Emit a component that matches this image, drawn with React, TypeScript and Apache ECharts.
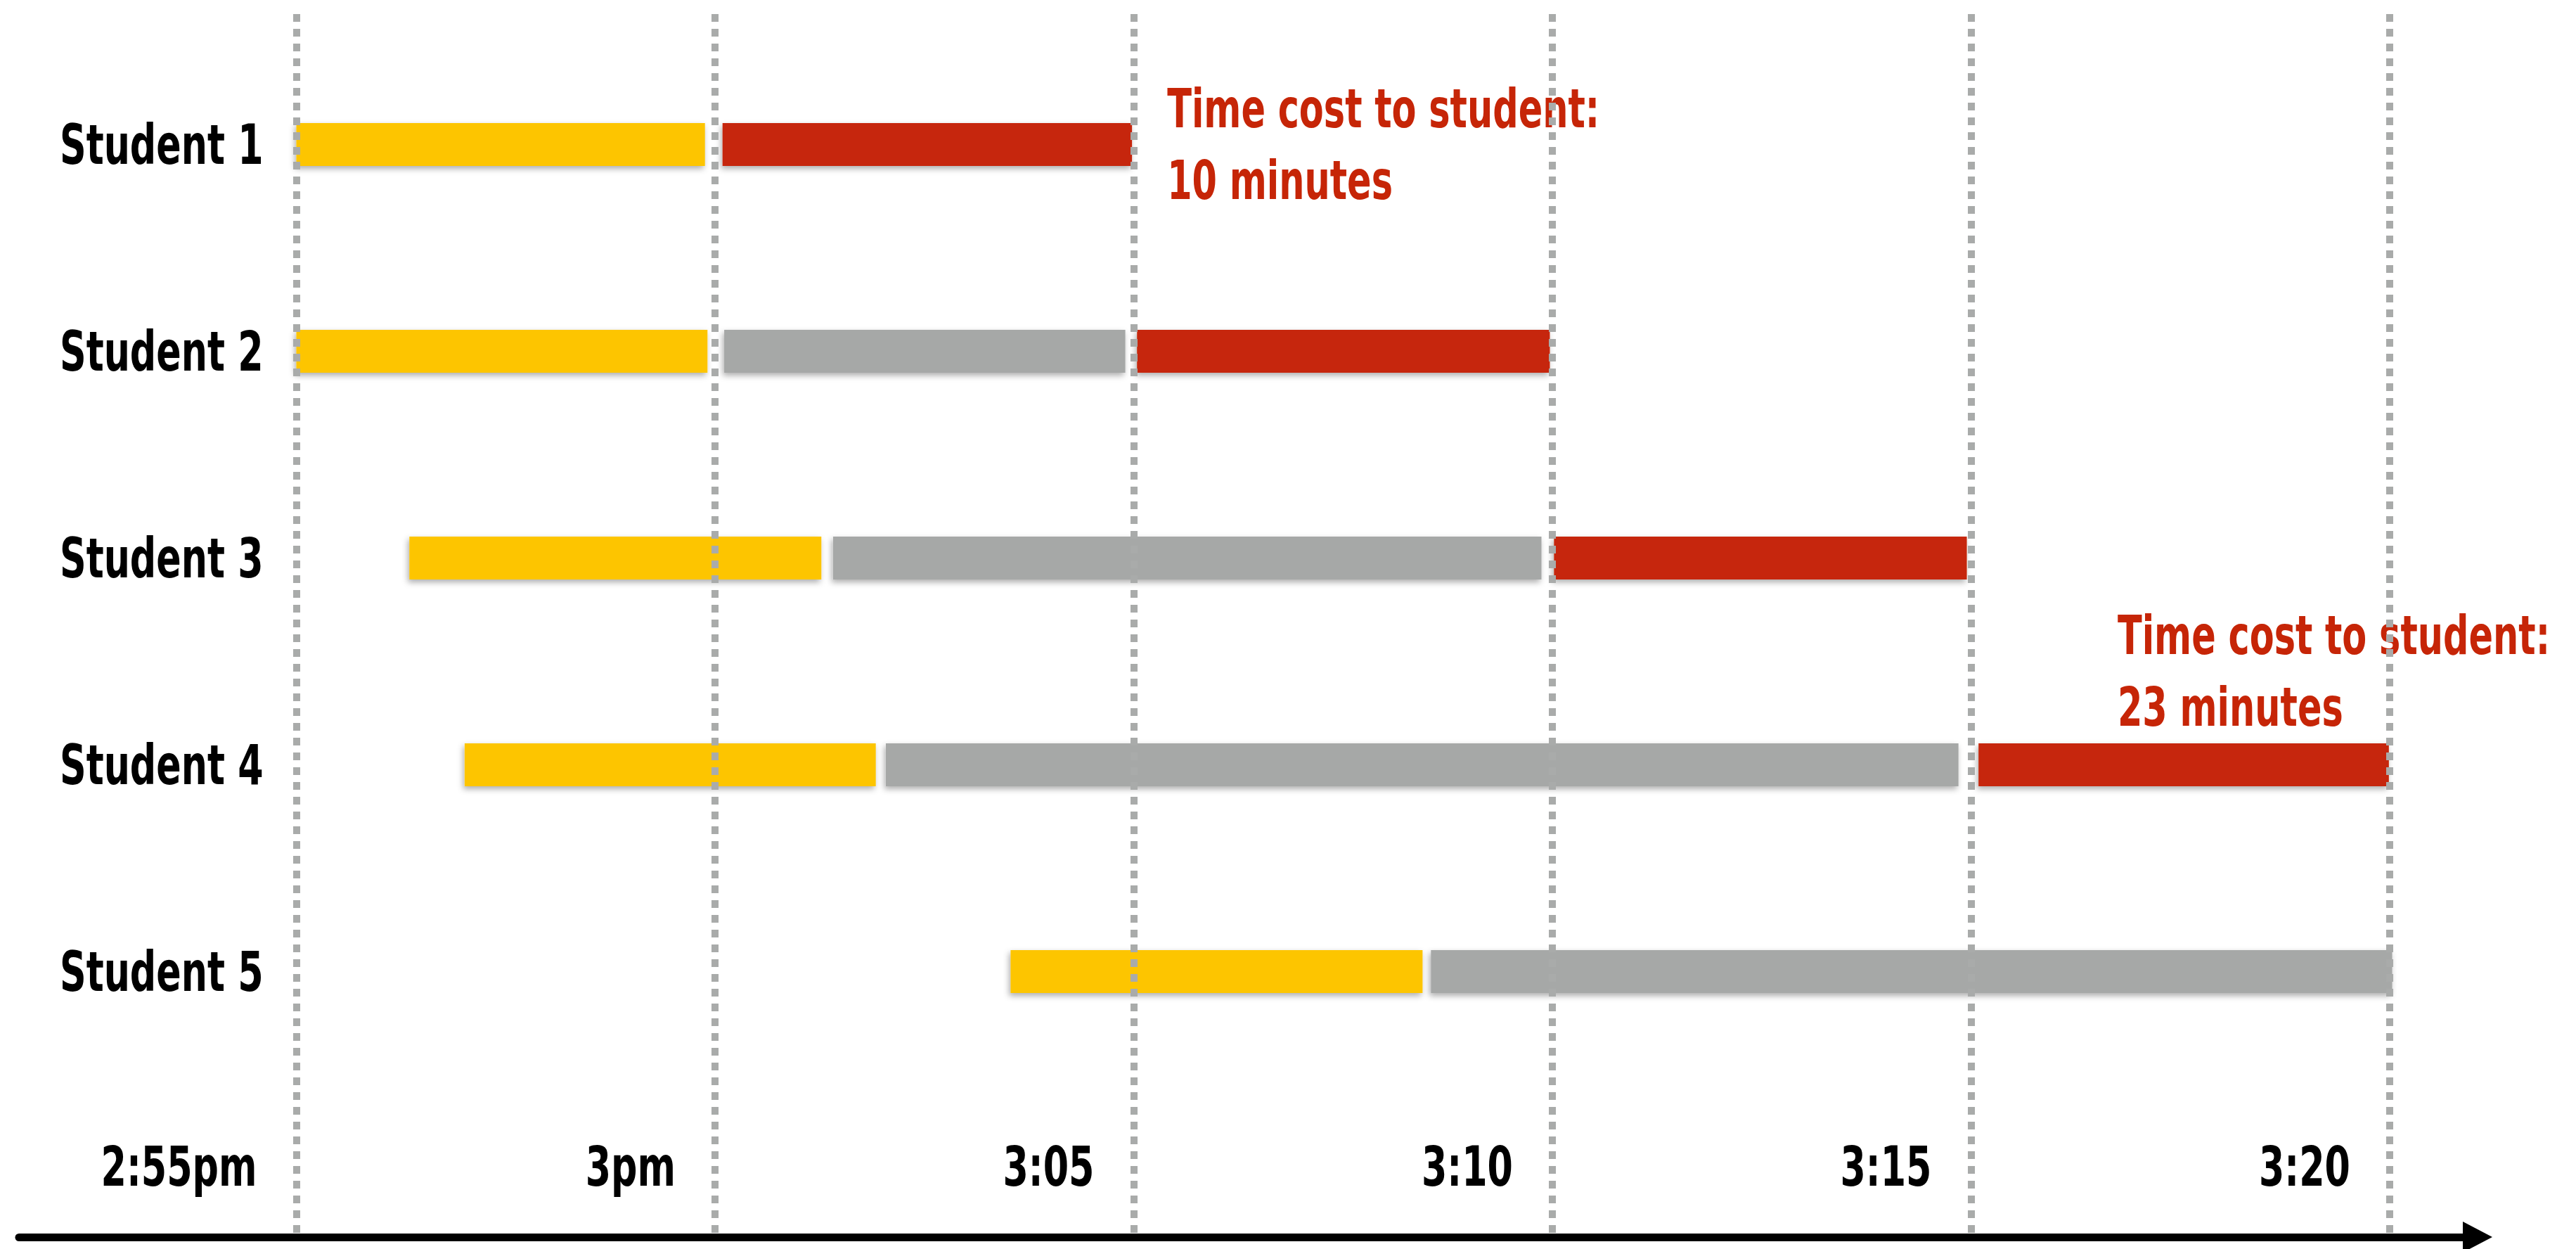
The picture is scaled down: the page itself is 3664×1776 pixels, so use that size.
import React, { useEffect, useRef } from "react";
import * as echarts from "echarts";

// ---- data (minutes after 2:55pm) ----
const students = ["Student 1", "Student 2", "Student 3", "Student 4", "Student 5"];
const tickValues = [0, 5, 10, 15, 20, 25];
const tickLabels = ["2:55pm", "3pm", "3:05", "3:10", "3:15", "3:20"];

// [start, end] per student, null when absent
const yellowSegments: (number[] | null)[] = [
  [0, 4.88],
  [0, 4.91],
  [1.35, 6.27],
  [2.01, 6.92],
  [8.53, 13.45],
];
const graySegments: (number[] | null)[] = [
  null,
  [5.11, 9.9],
  [6.41, 14.87],
  [7.04, 19.85],
  [13.55, 25.03],
];
const redSegments: (number[] | null)[] = [
  [5.09, 9.98],
  [10.04, 14.97],
  [15.02, 19.95],
  [20.09, 24.99],
  null,
];

const annotationX = [10.4, 21.75];
const annotationRow = [0, 3];
const annotationRowShift = [0, -0.45];
const annotationText = [
  "Time cost to student:\n10 minutes",
  "Time cost to student:\n23 minutes",
];

const FONT = "'Liberation Sans Narrow', 'DejaVu Sans Condensed', 'DejaVu Sans', sans-serif";
const NARROW = 0.745; // horizontal squeeze to mimic a condensed bold face
const YELLOW = "#fdc500";
const GRAY = "#a6a8a7";
const RED = "#c62507";

function toData(segs: (number[] | null)[]) {
  const out: number[][] = [];
  segs.forEach((s, i) => {
    if (s) out.push([s[0], s[1], i]);
  });
  return out;
}

function barSeries(name: string, segs: (number[] | null)[], color: string) {
  return {
    type: "custom",
    name,
    xAxisIndex: 0,
    yAxisIndex: 0,
    clip: false,
    z: 2,
    data: toData(segs),
    encode: { x: [0, 1], y: 2 },
    renderItem: (params: any, api: any) => {
      const s = api.value(0);
      const e = api.value(1);
      const row = api.value(2);
      const p0 = api.coord([s, row]);
      const p1 = api.coord([e, row]);
      const h = 61;
      return {
        type: "rect",
        shape: { x: p0[0], y: p0[1] - h / 2, width: p1[0] - p0[0], height: h },
        style: {
          fill: color,
          shadowBlur: 8,
          shadowOffsetX: -2,
          shadowOffsetY: 4,
          shadowColor: "rgba(0,0,0,0.32)",
        },
      };
    },
  };
}

export default function App() {
  const ref = useRef<HTMLDivElement>(null);

  useEffect(() => {
    if (!ref.current) return;
    const chart = echarts.init(ref.current, null, { renderer: "svg" });

    const textStyle = (text: string, fill: string, size: number, align: string) => ({
      text,
      fill,
      fontFamily: FONT,
      fontWeight: "bold",
      fontSize: size,
      align,
      verticalAlign: "middle",
    });

    const option: any = {
      animation: false,
      backgroundColor: "#ffffff",
      grid: [
        { left: 421.5, right: 265, top: 58.5, height: 1470 },
        { left: 421.5, right: 265, top: 20, bottom: 22 },
        { left: 27, right: 140, top: 1700, bottom: 17 },
      ],
      xAxis: [
        { gridIndex: 0, type: "value", min: 0, max: 25, show: false },
        {
          gridIndex: 1,
          type: "value",
          min: 0,
          max: 25,
          interval: 5,
          z: 10,
          axisLine: { show: false },
          axisTick: { show: false },
          axisLabel: { show: false },
          splitLine: {
            show: true,
            lineStyle: { color: "#a9abaa", width: 10, type: [11, 10] },
          },
        },
        {
          gridIndex: 2,
          type: "value",
          min: 0,
          max: 1,
          axisLine: {
            show: true,
            symbol: ["none", "triangle"],
            symbolSize: [44, 42],
            lineStyle: { color: "#000", width: 11 },
          },
          axisTick: { show: false },
          axisLabel: { show: false },
          splitLine: { show: false },
        },
      ],
      yAxis: [
        {
          gridIndex: 0,
          type: "category",
          data: students,
          inverse: true,
          axisLine: { show: false },
          axisTick: { show: false },
          splitLine: { show: false },
          axisLabel: { show: false },
        },
        { gridIndex: 1, type: "value", min: 0, max: 1, show: false },
        { gridIndex: 2, type: "value", show: false },
      ],
      series: [
        barSeries("Arrive", yellowSegments, YELLOW),
        barSeries("Wait", graySegments, GRAY),
        barSeries("Served", redSegments, RED),
        {
          // category labels (Student 1..5), squeezed horizontally
          type: "custom",
          name: "Students",
          xAxisIndex: 0,
          yAxisIndex: 0,
          clip: false,
          z: 3,
          data: students.map((s, i) => [0, i]),
          encode: { x: 0, y: 1 },
          renderItem: (params: any, api: any) => {
            const p = api.coord([api.value(0), api.value(1)]);
            return {
              type: "text",
              x: p[0] - 47,
              y: p[1],
              scaleX: NARROW,
              style: textStyle(students[params.dataIndex], "#000", 78, "right"),
            };
          },
        },
        {
          // time tick labels, left of each gridline
          type: "custom",
          name: "Times",
          xAxisIndex: 1,
          yAxisIndex: 1,
          clip: false,
          z: 3,
          data: tickValues.map((v) => [v, 0]),
          encode: { x: 0, y: 1 },
          renderItem: (params: any, api: any) => {
            const p = api.coord([api.value(0), api.value(1)]);
            return {
              type: "text",
              x: p[0] - 56,
              y: p[1] - 95,
              scaleX: NARROW,
              style: textStyle(tickLabels[params.dataIndex], "#000", 78, "right"),
            };
          },
        },
        {
          type: "custom",
          name: "Annotations",
          xAxisIndex: 0,
          yAxisIndex: 0,
          clip: false,
          z: 3,
          data: annotationX.map((x, i) => [x, annotationRow[i], annotationRowShift[i]]),
          encode: { x: 0, y: 1 },
          renderItem: (params: any, api: any) => {
            const p = api.coord([api.value(0), api.value(1)]);
            const band = api.size([0, 1])[1];
            return {
              type: "text",
              x: p[0],
              y: p[1] + api.value(2) * band,
              scaleX: NARROW,
              style: {
                ...textStyle(annotationText[params.dataIndex], RED, 76, "left"),
                lineHeight: 102,
              },
            };
          },
        },
      ],
    };

    chart.setOption(option);
    return () => chart.dispose();
  }, []);

  return (
    <div
      ref={ref}
      style={{ position: "fixed", left: 0, top: 0, width: 3664, height: 1776, background: "#fff" }}
    />
  );
}
